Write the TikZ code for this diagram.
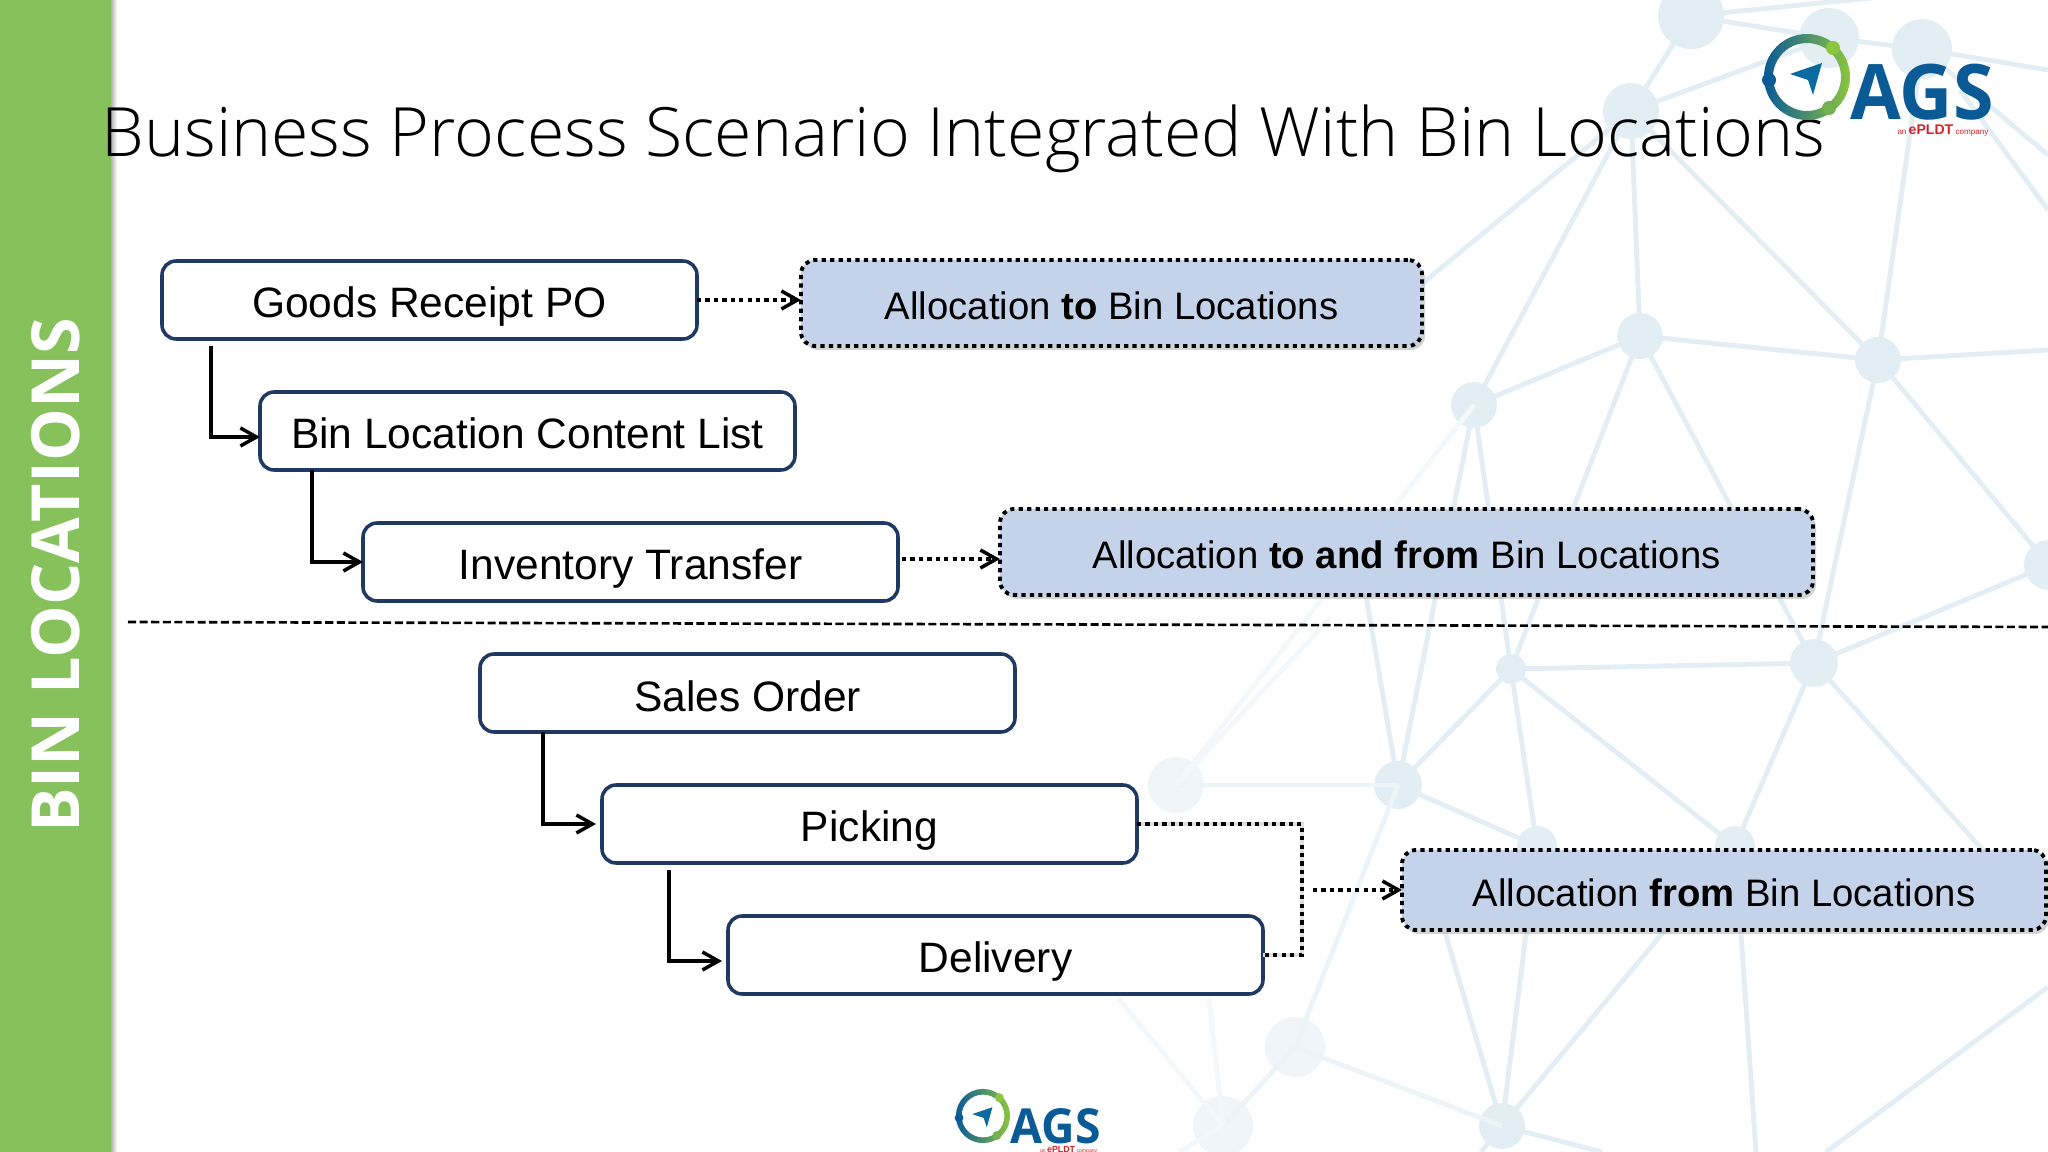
\documentclass[tikz,border=0pt]{standalone}
\usepackage{fontspec}
\setmainfont{Liberation Sans}
\newfontfamily\titlefont{Open Sans Light}
\newfontfamily\sidefont{Open Sans}
\usetikzlibrary{arrows.meta, positioning, shadows}
\definecolor{bbar}{HTML}{86C15C}
\definecolor{bnavy}{HTML}{1F3864}
\definecolor{bfill}{HTML}{C5D3EA}
\definecolor{bnet}{HTML}{E3EEF4}
\definecolor{bfaint}{HTML}{F4F8FA}
\definecolor{agsblue}{HTML}{0A5A96}
\definecolor{agsgreen}{HTML}{8CC63F}
\definecolor{agsred}{HTML}{D2232A}
\tikzset{
  procbox/.style={rectangle, rounded corners=4pt, draw=bnavy, fill=white, line width=1pt, outer sep=0pt,
              minimum height=0.78cm, minimum width=5.35cm, inner sep=0pt, align=center,
              text height=0.36cm, text depth=0cm, font=\fontsize{12.1}{14}\selectfont},
  dotline/.style={dash pattern=on 1.2pt off 1.2pt},
  allocbox/.style={rectangle, rounded corners=4pt, draw=black, fill=bfill, line width=1.1pt, dotline, outer sep=0pt,
              drop shadow={shadow xshift=0.3mm, shadow yshift=-0.4mm, opacity=0.35},
              inner sep=0pt, align=center, text height=0.33cm, text depth=0cm, font=\fontsize{10.9}{13}\selectfont},
  elbow/.style={-{Straight Barb[length=1.6mm, width=1.8mm]}, draw=black, line width=1pt},
  dotflow/.style={-{Straight Barb[length=1.6mm, width=1.8mm, line width=1pt]}, draw=black, line width=1.1pt, dotline},
  dotjoin/.style={draw=black, line width=1.2pt, dotline},
  agslogo/.pic={
    \shade[left color=agsblue, middle color=agsblue!70!agsgreen, right color=agsgreen, even odd rule]
      (0,0) circle (0.43) circle (0.34);
    \fill[agsgreen] (0.26,-0.29) circle (0.07);
    \fill[agsgreen!80!agsblue] (0.22,0.31) circle (0.07);
    \fill[agsblue] (-0.38,0.03) circle (0.07);
    \fill[agsblue!90!cyan] (-0.17,-0.03) -- (0.15,-0.14) -- (0.06,0.18) -- (0.01,0.03) -- cycle;
    \node[anchor=base west, transform shape, inner sep=0pt, text=agsblue, xscale=0.96,
          font=\sidefont\bfseries\fontsize{21.8}{22}\selectfont] (-name) at (0.43,0.43) {AGS};
    \node[anchor=base east, transform shape, inner sep=0pt, text=agsred,
          font=\fontsize{2.3}{3}\selectfont] (-sub) at (1.82,0.58)
          {an {\bfseries\fontsize{4}{4}\selectfont ePLDT} company};
  }
}

\begin{document}
\begin{tikzpicture}[y=-1cm]
  \useasboundingbox (0,0) rectangle (20.48,11.52);
  \clip (0,0) rectangle (20.48,11.52);

  % network behind everything
  \foreach \n/\x/\y/\r in {na/16.91/0.16/0.33, nb/18.29/0.38/0.30, nc/19.22/0.49/0.30, nd/16.31/1.11/0.28,
      ne/16.40/3.36/0.23, nf/18.78/3.60/0.23, ng/14.74/4.05/0.23, nh/20.49/5.65/0.25,
      ni/18.14/6.63/0.24, nj/15.11/6.69/0.15, nk/13.98/7.85/0.24, nm/15.37/8.46/0.20,
      nn/17.35/8.46/0.20, nq/15.02/11.26/0.23}
    \fill[bnet] (\x,\y) coordinate (\n) circle (\r);
  \foreach \n/\x/\y/\r in {nl/11.76/7.85/0.28, no/12.95/10.47/0.30, np/12.23/11.26/0.30}
    \fill[bfaint!70!bnet] (\x,\y) coordinate (\n) circle (\r);
  \coordinate (e1) at (20.48,0.70);
  \coordinate (e2) at (20.48,3.50);
  \coordinate (e3) at (19.00,-0.05);
  \coordinate (e4) at (20.48,9.87);
  \coordinate (e5) at (18.26,11.52);
  \coordinate (e6) at (17.56,11.52);
  \coordinate (e7) at (16.02,11.52);
  \coordinate (e8) at (14.81,11.52);
  \coordinate (e9) at (20.10,8.80);
  \coordinate (e10) at (14.00,3.02);
  \coordinate (e11) at (13.60,5.60);
  \coordinate (e12) at (14.45,9.32);
  \coordinate (e13) at (20.48,1.55);
  \coordinate (e14) at (19.60,0.90);
  \coordinate (e15) at (20.48,2.10);
  \foreach \a/\b in {na/nd, na/nb, nb/nc, nc/e1, na/e3, nd/nb, nd/nf, nd/ne, nd/ng, nd/e10, nc/nf,
      nf/ne, nf/e2, nf/nh, nf/ni, ne/ng, ne/nj, ne/ni, ng/nj, ng/nk, ni/nh, ni/e9, ni/nn, ni/nj,
      nj/nk, nj/nm, nj/nn, nk/nm, nk/e11, nn/e6, nn/nq, nm/nq, e12/nq, nq/e7, nq/e8, e4/e5,
      nc/e13, e14/e15}
    \draw[bnet, line width=1.4pt] (\a) -- (\b);
  \foreach \a/\b in {nk/nl, nk/no, no/nq, no/np}
    \draw[bfaint!60!bnet, line width=1.4pt] (\a) -- (\b);
  \coordinate (f1) at (11.18,9.98);
  \coordinate (f2) at (12.09,9.98);
  \coordinate (f3) at (11.79,11.52);
  \coordinate (f4) at (13.30,6.18);
  \foreach \a/\b in {np/f1, np/f2, np/f3, nl/f4, ng/nl}
    \draw[bfaint, line width=1.4pt] (\a) -- (\b);

  % side bar
  \shade[left color=gray!60, right color=white] (1.11,0) rectangle (1.17,11.52);
  \fill[bbar] (0,0) rectangle (1.11,11.52);
  \node[rotate=90, anchor=base, inner sep=0pt, text=white,
        font=\sidefont\bfseries\fontsize{18.9}{19}\selectfont] (side) at (0.79,5.755) {BIN LOCATIONS};

  % title
  \node[anchor=base west, inner sep=0pt, font=\titlefont\fontsize{19.35}{22}\selectfont] (title) at (1.01,1.57)
    {Business Process Scenario Integrated With Bin Locations};

  % logos
  \pic (logotop) at (18.07,0.77) {agslogo};
  \pic[scale=0.63] (logobot) at (9.83,11.16) {agslogo};

  % separator
  \coordinate (sepa) at (1.28,6.22);
  \coordinate (sepb) at (20.48,6.27);
  \draw[line width=0.75pt, dash pattern=on 2.3pt off 1pt] (sepa) -- (sepb);

  % inbound
  \node[procbox, anchor=north west] (gr) at (1.62,2.61) {Goods Receipt PO};
  \node[procbox, below=0.53cm of gr, xshift=0.98cm] (bl) {Bin Location Content List};
  \node[procbox, below=0.53cm of bl, xshift=1.03cm] (it) {Inventory Transfer};
  \node[allocbox, right=1.04cm of gr, yshift=-0.03cm, minimum width=6.21cm, minimum height=0.86cm] (ato)
    {Allocation \textbf{to} Bin Locations};
  \node[allocbox, right=1.02cm of it, yshift=0.10cm, minimum width=8.13cm, minimum height=0.86cm] (atf)
    {Allocation \textbf{to and from} Bin Locations};

  % outbound
  \node[procbox, below=0.53cm of it, xshift=1.17cm] (so) {Sales Order};
  \node[procbox, below=0.53cm of so, xshift=1.22cm] (pk) {Picking};
  \node[procbox, below=0.53cm of pk, xshift=1.26cm] (dl) {Delivery};
  \node[allocbox, right=2.65cm of pk, yshift=-0.66cm, minimum width=6.44cm, minimum height=0.80cm] (afr)
    {Allocation \textbf{from} Bin Locations};

  \draw[dotflow] (gr.east) -- (gr.east -| ato.west);
  \draw[dotflow, shorten <=0.04cm] ([yshift=0.03cm]it.east) -- ([yshift=0.03cm]it.east -| atf.west);
  \draw[elbow, shorten <=0.07cm] ([xshift=0.49cm]gr.south west) |- ([yshift=-0.06cm]bl.west);
  \draw[elbow] ([xshift=0.52cm]bl.south west) |- (it.west);
  \draw[elbow] ([xshift=0.63cm]so.south west) |- ([xshift=-0.06cm]pk.west);
  \draw[elbow, shorten <=0.07cm] ([xshift=0.67cm]pk.south west) |- ([xshift=-0.06cm, yshift=-0.06cm]dl.west);
  \coordinate (jn) at (13.02,0 |- afr.west);
  \coordinate (js) at ([xshift=0.11cm]jn);
  \draw[gray!25, line width=1.2pt, xshift=0.05cm, yshift=-0.05cm] (pk.east) -| (jn) |- (dl.east);
  \draw[dotjoin] (pk.east) -| (jn) |- (dl.east);
  \draw[dotflow] (js) -- (afr.west);
\end{tikzpicture}
\end{document}
